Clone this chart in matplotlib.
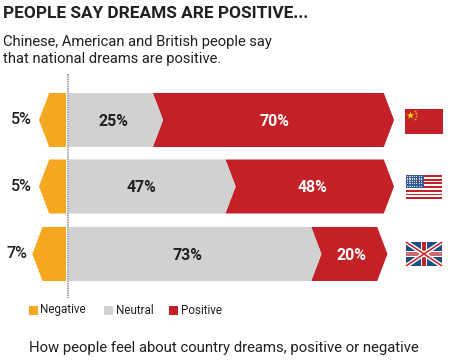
import matplotlib
matplotlib.use('Agg')
import matplotlib.pyplot as plt
from matplotlib.patches import Polygon, Rectangle

plt.rcParams['font.family'] = ['Roboto', 'DejaVu Sans']

W, H = 455, 364

negative = [5, 5, 7]
neutral = [25, 47, 73]
positive = [70, 48, 20]
legend_names = ['Negative', 'Neutral', 'Positive']
title = 'PEOPLE SAY DREAMS ARE POSITIVE...'
subtitle = 'Chinese, American and British people say\nthat national dreams are positive.'
footer = 'How people feel about country dreams, positive or negative'

ORANGE = '#f5a81f'
GRAY = '#d0d1d3'
RED = '#c32127'
DARK = '#231f20'

# layout, in pixels
scale = 3.3        # pixels per percent
zero = 67
tip = 3.1          # arrow depth, in percent
gap = 1.0          # neutral bars start a little right of the axis
neg_shift = 0.4    # negative bars reach a little further left
tops = [93, 159.5, 227]
bar_h = 54
neg_label_x = [21, 21, 17]
neu_label_x = [113, 141, 187]
pos_label_x = [274, 312, 351]

fig = plt.figure(figsize=(W/100, H/100), dpi=100)

# bars: x in percent, y in pixels
ax = fig.add_axes([0, 0, 1, 1])
ax.set_xlim(-zero/scale, (W - zero)/scale)
ax.set_ylim(H, 0)
ax.axis('off')


def arrow(left, right, top, color, notch=True):
    """ bar pointing right, with a notch at the left end """
    mid = top + bar_h/2
    pts = [(left, top), (right, top), (right + tip, mid),
           (right, top + bar_h), (left, top + bar_h)]
    if notch:
        pts.append((left + tip, mid))
    ax.add_patch(Polygon(pts, closed=True, fc=color, ec='none'))


for i in range(3):
    top = tops[i]
    mid = top + bar_h/2
    # negative points left
    n = negative[i] + neg_shift
    ax.add_patch(Polygon([(-0.3, top), (-n, top), (-n - tip, mid),
                          (-n, top + bar_h), (-0.3, top + bar_h)],
                         closed=True, fc=ORANGE, ec='none'))
    end = neutral[i] + gap
    arrow(end, end + positive[i], top, RED)
    arrow(0.5, end, top, GRAY, notch=False)

    ax.text((neg_label_x[i] - zero)/scale, mid, '%d%%' % negative[i], fontsize=11.6, weight='medium',
            color=DARK, ha='center', va='center')
    ax.text((neu_label_x[i] - zero)/scale, mid + 1, '%d%%' % neutral[i], fontsize=11.4, weight='bold',
            color=DARK, ha='center', va='center')
    ax.text((pos_label_x[i] - zero)/scale, mid + 1, '%d%%' % positive[i], fontsize=11.4, weight='bold',
            color='white', ha='center', va='center')

ax.plot([0.3, 0.3], [74, 298], color='#9a9a9a', lw=1.3, ls=(0, (0.8, 0.5)))

# everything else in plain pixels
px = fig.add_axes([0, 0, 1, 1])
px.set_xlim(0, W)
px.set_ylim(H, 0)
px.axis('off')
px.patch.set_alpha(0)

px.text(3, 13, title, fontsize=12.4, weight='bold', color=DARK, va='center')
px.text(3, 50.5, subtitle, fontsize=10.6, color=DARK, va='center', linespacing=1.2)
px.text(29, 348, footer, fontsize=10.75, color=DARK, va='center')

for name, c, bx, tx in zip(legend_names, [ORANGE, GRAY, RED], [29, 104, 169], [40, 116, 181]):
    px.add_patch(Rectangle((bx, 306), 9, 9, fc=c, ec='none'))
    px.text(tx, 310, name, fontsize=8.4, color=DARK, va='center')

# China
px.add_patch(Rectangle((405, 109), 38, 25, fc=RED, ec='none'))
px.scatter([410], [115], marker='*', s=32, c='#ffe000', linewidths=0)
px.scatter([414.5, 415.5, 415.5, 414.5], [110.5, 113, 116, 119], marker='*', s=5, c='#e8b020', linewidths=0)

# USA
for k in range(7):
    px.add_patch(Rectangle((406, 175 + k*3.7), 36, 1.9, fc=RED, ec='none'))
px.add_patch(Rectangle((406, 175), 17.5, 13, fc='#3a5a94', ec='none'))
for r in range(5):
    for c in range(7):
        px.add_patch(Rectangle((407 + c*2.3, 176 + r*2.4), 1.2, 1.2, fc='#dfe4ee', ec='none'))

# UK
x0, x1, y0, y1 = 406, 442, 242, 266
px.add_patch(Rectangle((x0, y0), x1 - x0, y1 - y0, fc='#1f4e86', ec='none'))
px.plot([x0, x1], [y0, y1], color='white', lw=3.2, solid_capstyle='butt')
px.plot([x0, x1], [y1, y0], color='white', lw=3.2, solid_capstyle='butt')
px.plot([x0, x1], [y0, y1], color=RED, lw=1.1, solid_capstyle='butt')
px.plot([x0, x1], [y1, y0], color=RED, lw=1.1, solid_capstyle='butt')
px.add_patch(Rectangle((x0, 251), x1 - x0, 6, fc='white', ec='none'))
px.add_patch(Rectangle((421, y0), 6, y1 - y0, fc='white', ec='none'))
px.add_patch(Rectangle((x0, 252), x1 - x0, 4, fc='#cf6a75', ec='none'))
px.add_patch(Rectangle((422, y0), 4, y1 - y0, fc=RED, ec='none'))

fig.savefig('out.png', dpi=100)
